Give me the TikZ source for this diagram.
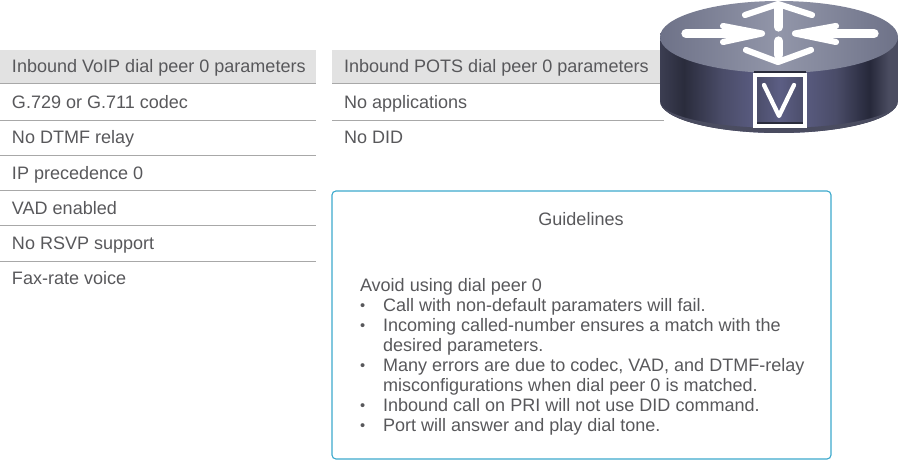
\documentclass[tikz,border=0pt]{standalone}
\usepackage{fontspec}
\setmainfont{Liberation Sans}
\definecolor{txt}{HTML}{58585B}
\definecolor{rule}{HTML}{A8A8A8}
\definecolor{hdr}{HTML}{E2E2E2}
\definecolor{boxb}{HTML}{3CA9CC}
\definecolor{rsA}{HTML}{3C3E52}
\definecolor{rsB}{HTML}{2A2C3C}
\definecolor{rsC}{HTML}{4A4C68}
\definecolor{rsD}{HTML}{5C5E84}
\definecolor{rsE}{HTML}{26283A}
\definecolor{rsF}{HTML}{4A4C60}
\definecolor{topA}{HTML}{9296A9}
\definecolor{topB}{HTML}{6E7288}
\pgfdeclarehorizontalshading{routerside}{100bp}{
 color(0bp)=(rsA);
 color(25bp)=(rsA);color(30bp)=(rsB);color(38bp)=(rsC);color(46bp)=(rsD);color(54bp)=(rsD);color(62bp)=(rsC);color(69bp)=(rsE);color(73bp)=(rsF);color(75bp)=(rsF);color(100bp)=(rsF)}
\tikzset{
 every node/.style={inner sep=0pt,outer sep=0pt,text=txt,font=\fontsize{13.52pt}{16pt}\selectfont},
 lab/.style={anchor=base west},
 sep/.style={draw=rule,line width=0.75pt},
 hd/.style={fill=hdr},
 glyph/.style={draw=white,line width=4.6pt,line cap=round,line join=round},
 stem/.style={draw=white,line width=7pt,line cap=round}
}
\begin{document}
\begin{tikzpicture}[x=0.75pt,y=-0.75pt]
\useasboundingbox (0,0) rectangle (899,460);
% headers
\fill[hd] (0,50) rectangle (316,84);
\fill[hd] (332,50) rectangle (664,84);
\foreach \y in {84,120,155,190,225,261} \draw[sep] (0,\y) coordinate (a\y) -- (316,\y) coordinate (b\y);
\foreach \y in {84,120} \draw[sep] (332,\y) coordinate (c\y) -- (664,\y) coordinate (d\y);
% labels
\node[lab] (h1) at (12,73) {Inbound VoIP dial peer 0 parameters};
\node[lab] (r1) at (12,108.6) {G.729 or G.711 codec};
\node[lab] (r2) at (12,143) {No DTMF relay};
\node[lab] (r3) at (12,179) {IP precedence 0};
\node[lab] (r4) at (12,214) {VAD enabled};
\node[lab] (r5) at (12,249) {No RSVP support};
\node[lab] (r6) at (12,284) {Fax-rate voice};
\node[lab] (h2) at (344,73) {Inbound POTS dial peer 0 parameters};
\node[lab] (s1) at (344,108.6) {No applications};
\node[lab] (s2) at (344,143) {No DID};
% guidelines
\draw[boxb,line width=0.85pt,rounded corners=3pt] (332,191) rectangle (831,459);
\node[anchor=base] (g0) at (581,225) {Guidelines};
\node[lab] (g1) at (360,291) {Avoid using dial peer 0};
\foreach \y/\t in {
 311/Call with non-default paramaters will fail.,
 331/Incoming called-number ensures a match with the,
 351/desired parameters.,
 371/{Many errors are due to codec, VAD, and DTMF-relay},
 391/misconfigurations when dial peer 0 is matched.,
 411/Inbound call on PRI will not use DID command.,
 431/Port will answer and play dial tone.}
 \node[lab] at (383,\y) {\t};
\foreach \y in {310,330,370,410,430} \node[anchor=base west] at (360,\y) {\fontsize{11pt}{12pt}\selectfont •};
% router
\path[shade,shading=routerside] (660,37) -- (660,101) arc[x radius=119,y radius=32,start angle=180,end angle=0] -- (898,37) -- cycle;
\fill[rsF] (660,101) arc[x radius=119,y radius=32,start angle=180,end angle=0] arc[x radius=119,y radius=27,start angle=0,end angle=180] -- cycle;
\shade[left color=topB,right color=topB,middle color=topA] (779,37) ellipse[x radius=119,y radius=36];
\fill[rsB] (754,71) rectangle (806,76);
\shade[left color=rsC,right color=rsC,middle color=rsD] (754,74) rectangle (806,127);
\fill[rsB] (757,121.5) rectangle (803,123.5);
\draw[white,line width=2.6pt] (755,75) rectangle (805,126);
\draw[white,line width=3.2pt,line cap=round,line join=round] (764,85) -- (779,116) -- (794,85);
% arrows
\draw[stem] (778.5,27) -- (778.5,8);
\draw[glyph] (745,15) -- (778,4) -- (812,15);
\draw[stem] (778.5,41) -- (778.5,55);
\draw[glyph] (746,50) -- (778,62) -- (811,50);
\draw[stem] (686,33.5) -- (745,33.5);
\draw[glyph] (723,26) -- (762,33.5) -- (723,42);
\draw[stem] (874,33.5) -- (812,33.5);
\draw[glyph] (836,26) -- (795,33.5) -- (836,42);
\end{tikzpicture}
\end{document}
